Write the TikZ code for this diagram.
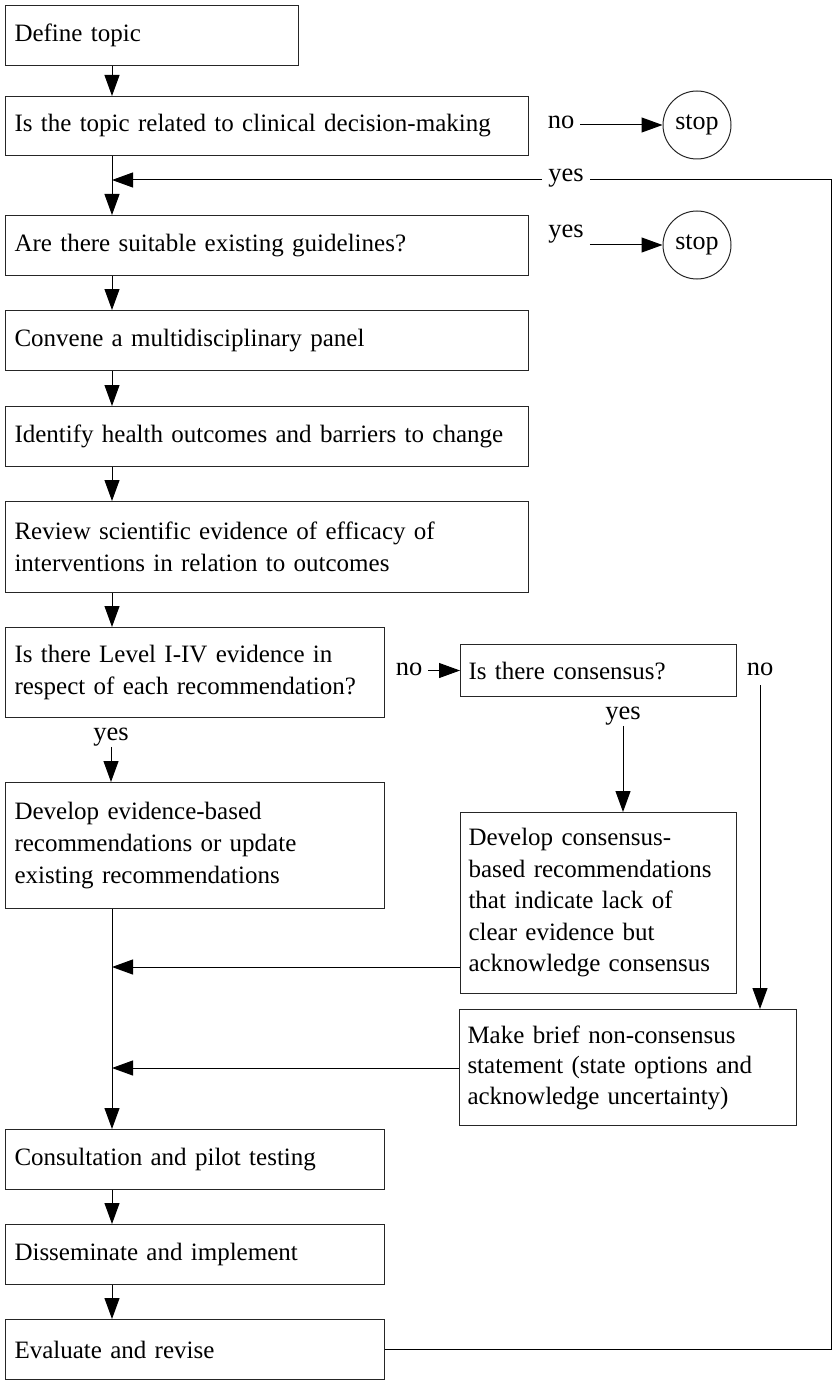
\documentclass[tikz,border=0pt]{standalone}
\usepackage{fontspec}
\setmainfont{Liberation Serif}
\usetikzlibrary{arrows.meta}
\tikzset{
  box/.style={draw=black!85, line width=1pt, anchor=north west, align=left,
    inner xsep=9pt, inner ysep=0pt, font=\fontsize{25}{32}\selectfont},
  stopnode/.style={draw=black!85, line width=1pt, circle, minimum size=68pt,
    inner sep=0pt, font=\fontsize{26}{31}\selectfont},
  lbl/.style={anchor=base, inner xsep=6pt, inner ysep=1pt, font=\fontsize{26.5}{31}\selectfont},
  arr/.style={line width=1pt, -{Triangle[length=21pt,width=15pt]}},
  ln/.style={line width=1pt}
}
\begin{document}
\begin{tikzpicture}[x=1pt,y=-1pt]
\useasboundingbox (0,0) rectangle (832,1380);
\coordinate (X) at (112,0);
\coordinate (j1) at (112,180);
\coordinate (j2) at (112,967);
\coordinate (j3) at (112,1068);
\coordinate (R) at (831,180);

\node[box, minimum width=293pt, minimum height=60pt, text width=275pt] (b1) at (5,5) {Define topic};
\node[box, minimum width=523pt, minimum height=59pt, text width=505pt] (b2) at (5,96) {Is the topic related to clinical decision-making};
\node[box, minimum width=523pt, minimum height=60pt, text width=505pt] (b3) at (5,215) {Are there suitable existing guidelines?};
\node[box, minimum width=523pt, minimum height=60pt, text width=505pt] (b4) at (5,310) {Convene a multidisciplinary panel};
\node[box, minimum width=523pt, minimum height=60pt, text width=505pt] (b5) at (5,406) {Identify health outcomes and barriers to change};
\node[box, minimum width=523pt, minimum height=91pt, text width=505pt] (b6) at (5,501) {Review scientific evidence of efficacy of\\interventions in relation to outcomes};
\node[box, minimum width=379pt, minimum height=90pt, text width=361pt] (b7) at (5,627) {Is there Level I-IV evidence in\\respect of each recommendation?};
\node[box, minimum width=379pt, minimum height=126pt, text width=361pt] (b8) at (5,782) {Develop evidence-based\\recommendations or update\\existing recommendations};
\node[box, minimum width=379pt, minimum height=60pt, text width=361pt] (b9) at (5,1129) {Consultation and pilot testing};
\node[box, minimum width=379pt, minimum height=60pt, text width=361pt] (b10) at (5,1224) {Disseminate and implement};
\node[box, minimum width=379pt, minimum height=60pt, text width=361pt] (b11) at (5,1319) {Evaluate and revise};

\node[box, inner xsep=8pt, minimum width=276pt, minimum height=52pt, text width=260pt] (cons) at (460,644) {Is there consensus?};
\node[box, inner xsep=8pt, minimum width=276pt, minimum height=181pt, text width=260pt, font=\fontsize{25}{31.5}\selectfont] (cdev) at (460,812) {Develop consensus-\\based recommendations\\that indicate lack of\\clear evidence but\\acknowledge consensus};
\node[box, inner xsep=8pt, minimum width=337pt, minimum height=116pt, text width=321pt, font=\fontsize{25}{30.5}\selectfont] (mk) at (459,1009) {Make brief non-consensus\\statement (state options and\\acknowledge uncertainty)};

\node[stopnode] (stop1) at (697,125) {stop};
\node[stopnode] (stop2) at (697,245) {stop};

\node[lbl] (no1) at (561,129) {no};
\node[lbl] (yes1) at (566,182) {yes};
\node[lbl] (yes2) at (566,238) {yes};
\node[lbl] (no2) at (409,675) {no};
\node[lbl] (no3) at (760,675) {no};
\node[lbl] (yes3) at (623,719) {yes};
\node[lbl] (yesA) at (111,740) {yes};

% main column
\draw[arr] (b1.south -| X) -- (b2.north -| X);
\draw[arr] (b2.south -| X) -- (b3.north -| X);
\draw[arr] (b3.south -| X) -- (b4.north -| X);
\draw[arr] (b4.south -| X) -- (b5.north -| X);
\draw[arr] (b5.south -| X) -- (b6.north -| X);
\draw[arr] (b6.south -| X) -- (b7.north -| X);
\draw[arr] (yesA.south) -- (b8.north -| yesA.south);
\draw[arr] (b8.south -| X) -- (b9.north -| X);
\draw[arr] (b9.south -| X) -- (b10.north -| X);
\draw[arr] (b10.south -| X) -- (b11.north -| X);

% stops
\draw[arr] (stop1.west -| no1.east) -- (stop1.west);
\draw[arr] (stop2.west -| yes2.east) -- (stop2.west);

% loop back
\draw[ln] (b11.east) -| (R) -- (yes1.east |- R);
\draw[arr] (yes1.west |- R) -- (j1);

% consensus branch
\draw[arr] (cons.west -| no2.east) -- (cons.west);
\draw[arr] (yes3.south) -- (cdev.north -| yes3.south);
\draw[arr] ([yshift=-9pt]no3.south) -- (mk.north -| no3.south);
\draw[arr] (j2 -| cdev.west) -- (j2);
\draw[arr] (j3 -| mk.west) -- (j3);
\end{tikzpicture}
\end{document}
